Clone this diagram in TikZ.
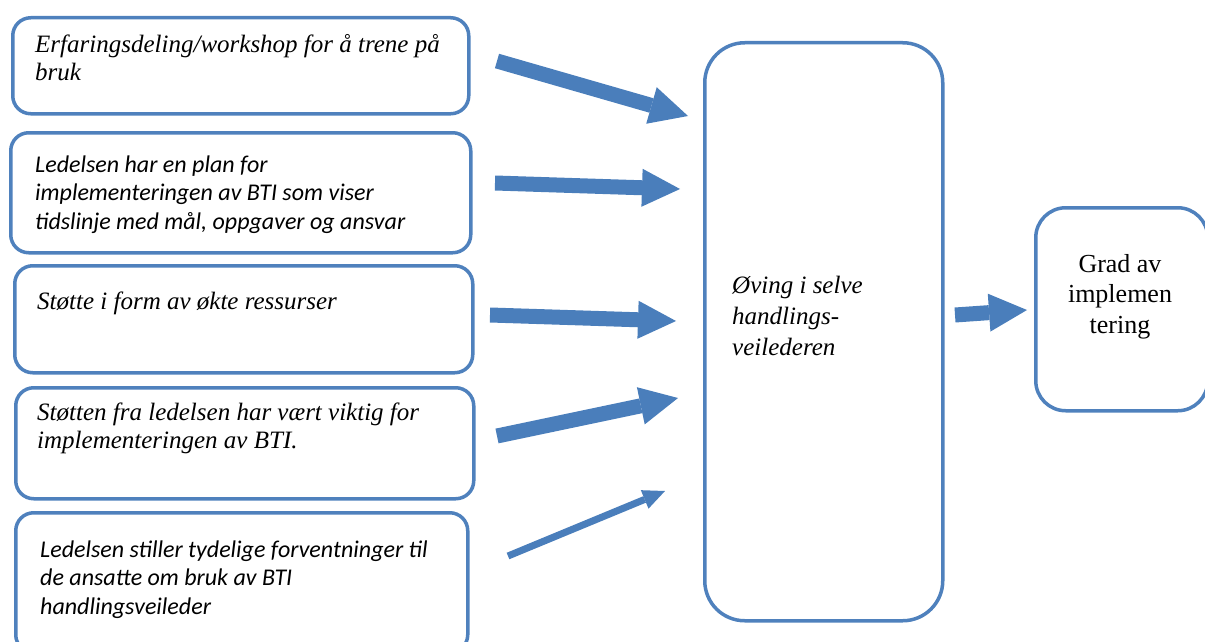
\documentclass[tikz,border=0pt]{standalone}
\usepackage{fontspec}
\setmainfont{Liberation Serif}
\newfontfamily\calib{Carlito}
\usetikzlibrary{arrows.meta}
\definecolor{bord}{RGB}{79,129,189}
\definecolor{arr}{RGB}{74,126,187}
\begin{document}
\begin{tikzpicture}[x=1pt,y=-1pt,
  box/.style={draw=bord, line width=3.5pt, rounded corners=18pt, fill=white, inner sep=0pt, anchor=north west},
  serif/.style={anchor=base west, inner sep=0pt, align=left, font=\fontsize{25}{28}\selectfont\itshape},
  sans/.style={anchor=base west, inner sep=0pt, align=left, font=\calib\fontsize{24}{28.5}\selectfont\itshape},
  fatarrow/.style={draw=arr, line width=15pt, -{Triangle[width=38pt,length=38pt,line width=0pt]}},
  thinarrow/.style={draw=arr, line width=7pt, -{Triangle[width=20pt,length=22pt,line width=0pt]}}
]
\useasboundingbox (0,0) rectangle (1205,642);
% boxes
\node[box, minimum width=456pt, minimum height=96pt] (b1) at (11,16) {};
\node[box, minimum width=460pt, minimum height=120pt] (b2) at (9,131) {};
\node[box, minimum width=458pt, minimum height=107pt] (b3) at (13,264) {};
\node[box, minimum width=458pt, minimum height=111pt] (b4) at (14,386) {};
\node[box, minimum width=452pt, minimum height=140pt] (b5) at (14,511) {};
\node[box, rounded corners=40pt, minimum width=238pt, minimum height=578pt] (c) at (703,41) {};
\node[box, rounded corners=30pt, minimum width=172pt, minimum height=203pt] (g) at (1034,206) {};
% texts (anchor = baseline of last line)
\node[serif] (t1) at (35,81) {Erfaringsdeling/workshop for å trene på\\bruk};
\node[sans] (t2) at (35,229) {Ledelsen har en plan for\\implementeringen av BTI som viser\\tidslinje med mål, oppgaver og ansvar};
\node[serif] (t3) at (37,309) {Støtte i form av økte ressurser};
\node[serif] (t4) at (37,448) {Støtten fra ledelsen har vært viktig for\\implementeringen av BTI.};
\node[sans] (t5) at (40,614) {Ledelsen stiller tydelige forventninger til\\de ansatte om bruk av BTI\\handlingsveileder};
\node[serif, font=\fontsize{25}{31}\selectfont\itshape] (tc) at (732,355) {Øving i selve\\handlings-\\veilederen};
\node[anchor=base, inner sep=0pt, align=center, font=\fontsize{26}{30.5}\selectfont] (tg) at (1120,333) {Grad av\\implemen\\tering};
% arrow ends
\coordinate (s1) at (497,61); \coordinate (e1) at (688,116);
\coordinate (s2) at (495,183); \coordinate (e2) at (680,189);
\coordinate (s3) at (490,315); \coordinate (e3) at (676,321);
\coordinate (s4) at (497,436); \coordinate (e4) at (678,398);
\coordinate (s5) at (508,556); \coordinate (e5) at (665,491);
\coordinate (s6) at (955,315); \coordinate (e6) at (1027,310);
\draw[fatarrow] (s1) -- (e1);
\draw[fatarrow] (s2) -- (e2);
\draw[fatarrow] (s3) -- (e3);
\draw[fatarrow] (s4) -- (e4);
\draw[thinarrow] (s5) -- (e5);
\draw[fatarrow] (s6) -- (e6);
\end{tikzpicture}
\end{document}
